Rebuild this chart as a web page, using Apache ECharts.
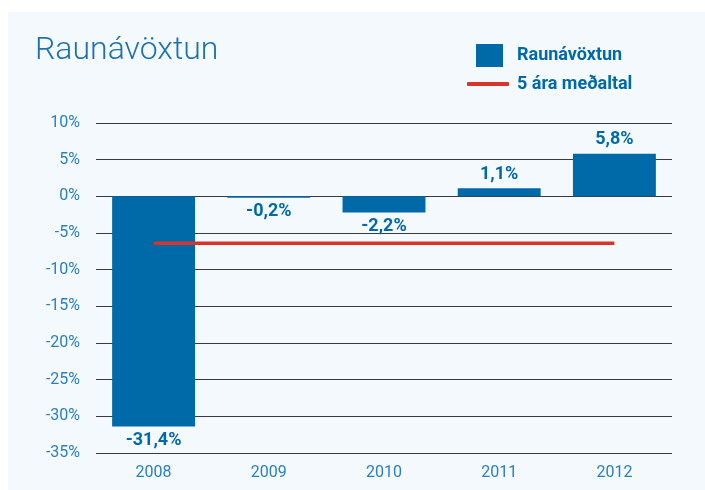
<!DOCTYPE html>
<html>
<head>
<meta charset="utf-8">
<script src="https://cdn.jsdelivr.net/npm/echarts@6/dist/echarts.min.js"></script>
<style>
  html, body { margin: 0; padding: 0; background: #fff; }
  #chart { width: 705px; height: 490px; }
</style>
</head>
<body>
<div id="chart"></div>
<script>
// gögn
var years = ['2008', '2009', '2010', '2011', '2012']
var returns = [-31.4, -0.2, -2.2, 1.1, 5.8]
var avg5 = [-6.4, -6.4, -6.4, -6.4, -6.4]
var yMin = -35, yMax = 10, yStep = 5

var blue = '#006aa8'
var labelBlue = '#2a80c0'
var red = '#d8352a'

var fmt = (v) => (v + '').replace('.', ',') + '%'

var chart = echarts.init(document.getElementById('chart'))

chart.setOption({
    backgroundColor: '#ffffff',
    animation: false,
    textStyle: { fontFamily: 'Roboto' },
    graphic: [{
        type: 'rect',
        z: -10,
        shape: { x: 8, y: 12, width: 697, height: 478 },
        style: { fill: '#f4f9fd' }
    }],
    title: {
        text: 'Raunávöxtun',
        left: 30,
        top: 30,
        textStyle: { fontSize: 32, fontWeight: 300, color: '#1f72b0', fontFamily: 'Roboto', letterSpacing: 1.2 }
    },
    legend: [
        {
            data: [{ name: 'Raunávöxtun', icon: 'rect' }],
            left: 471,
            top: 39,
            itemWidth: 27,
            itemHeight: 23,
            textStyle: { color: blue, fontWeight: 'bold', fontSize: 18, letterSpacing: 0.6, padding: [0, 0, 0, 9] }
        },
        {
            data: [{ name: '5 ára meðaltal', icon: 'roundRect' }],
            left: 462,
            top: 70,
            itemWidth: 42,
            itemHeight: 4,
            textStyle: { color: blue, fontWeight: 'bold', fontSize: 18, letterSpacing: 0.6, padding: [0, 0, 0, 3] }
        }
    ],
    grid: { left: 96, right: 33, top: 123, bottom: 37 },
    xAxis: {
        type: 'category',
        data: years,
        axisLine: { show: false },
        axisTick: { show: false },
        axisLabel: { color: labelBlue, fontSize: 16, letterSpacing: 1.2, margin: 12 }
    },
    yAxis: {
        type: 'value',
        min: yMin,
        max: yMax,
        interval: yStep,
        axisLine: { show: false },
        axisTick: { show: false },
        axisLabel: {
            color: labelBlue,
            fontSize: 16,
            letterSpacing: 1,
            margin: 16,
            formatter: (v) => v + '%'
        },
        splitLine: { lineStyle: { color: '#3a3a3a', width: 1 } }
    },
    series: [
        {
            name: 'Raunávöxtun',
            type: 'bar',
            barWidth: '72%',
            itemStyle: { color: blue },
            data: returns.map((v) => ({
                value: v,
                label: { position: v < 0 ? 'bottom' : 'top' }
            })),
            label: {
                show: true,
                color: blue,
                fontWeight: 'bold',
                fontSize: 18,
                letterSpacing: 0.6,
                distance: 5,
                formatter: (p) => fmt(p.value)
            }
        },
        {
            name: '5 ára meðaltal',
            type: 'line',
            data: avg5,
            symbol: 'none',
            itemStyle: { color: red },
            lineStyle: { color: red, width: 3.5 },
            z: 5
        }
    ]
})
</script>
</body>
</html>
